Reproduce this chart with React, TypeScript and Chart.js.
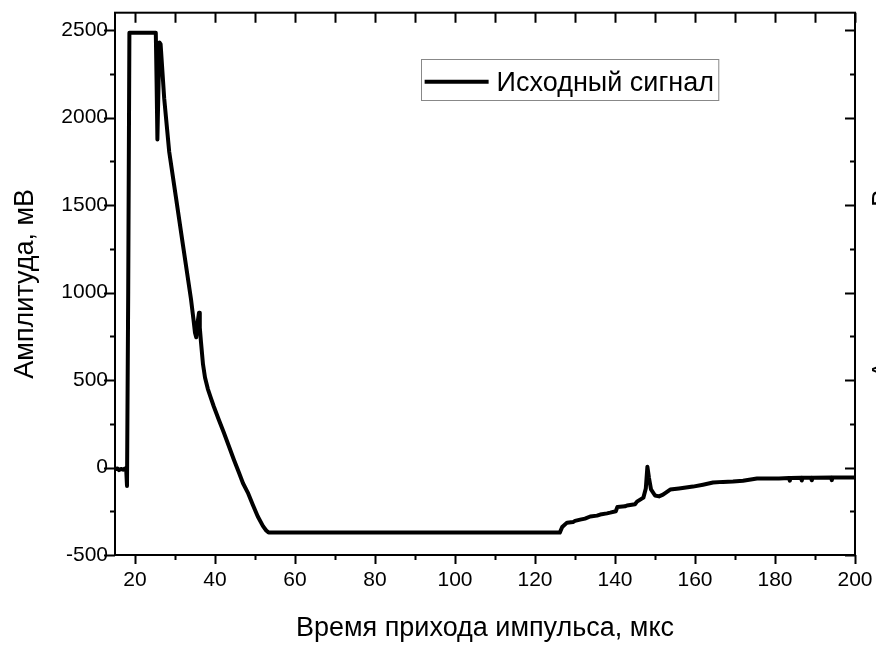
import React, { useEffect, useRef } from 'react';
import { Chart, registerables } from 'chart.js';

Chart.register(...registerables);

// ---- data ----
const timeUs: number[] = [
  15, 15.6, 16, 16.5, 17, 17.5, 17.8, 18.0, 18.3, 18.6,
  25.2, 25.4, 25.6, 25.8, 26.1, 26.4, 27.3, 28.55, 30.2, 32.0,
  34.0, 34.6, 35.0, 35.3, 35.6, 36.0, 36.2, 36.5, 37.0, 37.5,
  38.2, 39.0, 39.7, 41.0, 42.2, 43.5, 44.7, 46.0, 47.0, 48.2,
  49.5, 50.7, 52.0, 52.8, 53.4,
  126.2, 126.8, 128, 129.5, 130, 131.3, 132.5, 133.8, 135.5, 136.3,
  138, 138.8, 140.2, 140.6, 142.5, 143, 145, 145.5, 147.1, 147.7,
  148.1, 148.5, 149, 150, 151, 152, 153.8,
  156, 159.5, 162, 164.5, 167, 169.5, 172, 175.5, 178, 181,
  183.5, 183.7, 183.9, 186.5, 186.7, 186.9, 189, 189.2, 189.4, 194, 194.2, 194.4, 200,
];
const amplitudeMv: number[] = [
  -10, -5, -15, -8, -12, -6, -10, -105, 1000, 2485,
  2485, 2200, 1875, 2100, 2430, 2420, 2110, 1805, 1550, 1270,
  962, 850, 770, 745, 820, 885, 800, 716, 590, 515,
  450, 395, 349, 270, 200, 120, 46, -30, -90, -143,
  -215, -280, -335, -360, -372,
  -372, -340, -315, -312, -305, -298, -292, -280, -275, -269,
  -262, -258, -250, -225, -222, -217, -210, -195, -172, -120,
  5, -60, -125, -160, -165, -155, -126,
  -120, -109, -98, -86, -82, -80, -75, -63, -62, -62,
  -60, -75, -60, -59, -74, -59, -58, -73, -58, -57, -72, -57, -57,
];
const xTickLabels: number[] = [20, 40, 60, 80, 100, 120, 140, 160, 180, 200];
const yTickLabels: number[] = [-500, 0, 500, 1000, 1500, 2000, 2500];
const xMin = 15;
const xMax = 200;
const yMin = -500;
const yMax = 2600;
const seriesLabel = 'Исходный сигнал';
const xTitle = 'Время прихода импульса, мкс';
const yTitle = 'Амплитуда, мВ';

const FONT = '"Liberation Sans", Arial, sans-serif';
const TITLE_SIZE = 27;

const framePlugin = {
  id: 'frameTicks',
  afterDatasetsDraw(chart: any) {
    const { ctx, chartArea: a, scales } = chart;
    const x = scales.x;
    const y = scales.y;
    ctx.save();
    ctx.strokeStyle = '#000';
    ctx.lineWidth = 2;
    ctx.strokeRect(a.left, a.top, a.right - a.left, a.bottom - a.top);
    ctx.beginPath();
    for (let v = 20; v <= xMax; v += 10) {
      const px = Math.round(x.getPixelForValue(v)) + 0.5;
      const major = v % 20 === 0;
      ctx.moveTo(px, a.bottom);
      ctx.lineTo(px, a.bottom + (major ? 9 : 5));
      ctx.moveTo(px, a.top);
      ctx.lineTo(px, a.top + 10);
    }
    for (let v = yMin; v <= 2500; v += 250) {
      const py = Math.round(y.getPixelForValue(v)) + 0.5;
      const major = v % 500 === 0;
      ctx.moveTo(a.left, py);
      ctx.lineTo(a.left - (major ? 11 : 5), py);
      ctx.moveTo(a.right, py);
      ctx.lineTo(a.right - (major ? 10 : 5), py);
    }
    ctx.stroke();
    ctx.restore();
  },
  afterDraw(chart: any) {
    const { ctx, chartArea: a } = chart;
    ctx.save();
    // legend box
    const ds = chart.data.datasets[0];
    const left = a.left + (a.right - a.left) * 0.413;
    const top = a.top + (a.bottom - a.top) * 0.086;
    ctx.font = `${TITLE_SIZE}px ${FONT}`;
    const tw = ctx.measureText(ds.label).width;
    const lineStart = left + 4;
    const lineEnd = lineStart + 64;
    const textX = lineEnd + 8;
    const boxW = textX + tw + 4 - left;
    const boxH = 41;
    ctx.fillStyle = '#fff';
    ctx.fillRect(left, top, boxW, boxH);
    ctx.strokeStyle = '#888';
    ctx.lineWidth = 1;
    ctx.strokeRect(Math.round(left) + 0.5, Math.round(top) + 0.5, boxW, boxH);
    ctx.strokeStyle = '#000';
    ctx.lineWidth = 4;
    ctx.beginPath();
    ctx.moveTo(lineStart, top + 22.5);
    ctx.lineTo(lineEnd, top + 22.5);
    ctx.stroke();
    ctx.fillStyle = '#000';
    ctx.textBaseline = 'alphabetic';
    ctx.textAlign = 'left';
    ctx.fillText(ds.label, textX, top + 31.5);
    // cut-off right-hand title
    const cy = (a.top + a.bottom) / 2;
    ctx.translate(872 + TITLE_SIZE * 0.716, cy);
    ctx.rotate(-Math.PI / 2);
    ctx.textAlign = 'center';
    ctx.fillText(yTitle, 0, 0);
    ctx.restore();
  },
};

export default function App() {
  const ref = useRef<HTMLCanvasElement | null>(null);
  useEffect(() => {
    if (!ref.current) return;
    const points = timeUs.map((t, i) => ({ x: t, y: amplitudeMv[i] }));
    const chart = new Chart(ref.current, {
      type: 'line',
      data: {
        datasets: [
          {
            label: seriesLabel,
            data: points,
            borderColor: '#000',
            backgroundColor: '#000',
            borderWidth: 4,
            pointRadius: 0,
            tension: 0,
            borderJoinStyle: 'round',
            fill: false,
          },
        ],
      },
      options: {
        animation: false,
        responsive: false,
        maintainAspectRatio: false,
        parsing: false as any,
        layout: { padding: { top: 12.7, right: 21, left: 0, bottom: 0 } },
        plugins: {
          legend: { display: false },
          tooltip: { enabled: false },
        },
        scales: {
          x: {
            type: 'linear',
            min: xMin,
            max: xMax,
            afterBuildTicks: (s: any) => {
              s.ticks = xTickLabels.map((v) => ({ value: v }));
            },
            afterFit: (s: any) => {
              s.height = 90;
              s.paddingLeft = 0;
              s.paddingRight = 0;
            },
            grid: { display: false, drawTicks: false },
            border: { display: false },
            ticks: {
              color: '#000',
              font: { family: FONT, size: 21 },
              padding: 13,
              maxRotation: 0,
              autoSkip: false,
              callback: (v: any) => String(v),
            },
            title: {
              display: true,
              text: xTitle,
              color: '#000',
              font: { family: FONT, size: TITLE_SIZE },
              padding: { top: 0, bottom: 0 },
            },
          },
          y: {
            type: 'linear',
            min: yMin,
            max: yMax,
            afterBuildTicks: (s: any) => {
              s.ticks = yTickLabels.map((v) => ({ value: v }));
            },
            afterFit: (s: any) => {
              s.width = 115;
              s.paddingTop = 0;
              s.paddingBottom = 0;
            },
            grid: { display: false, drawTicks: false },
            border: { display: false },
            ticks: {
              color: '#000',
              font: { family: FONT, size: 21 },
              padding: 7,
              autoSkip: false,
              callback: (v: any) => String(v),
            },
            title: {
              display: true,
              text: yTitle,
              color: '#000',
              font: { family: FONT, size: TITLE_SIZE },
              padding: { top: 9, bottom: 0 },
            },
          },
        },
      },
      plugins: [framePlugin],
    } as any);
    return () => chart.destroy();
  }, []);
  return (
    <div style={{ position: 'fixed', left: 0, top: 0, width: 876, height: 645, background: '#fff' }}>
      <canvas ref={ref} width={876} height={645} style={{ width: 876, height: 645, display: 'block' }} />
    </div>
  );
}
